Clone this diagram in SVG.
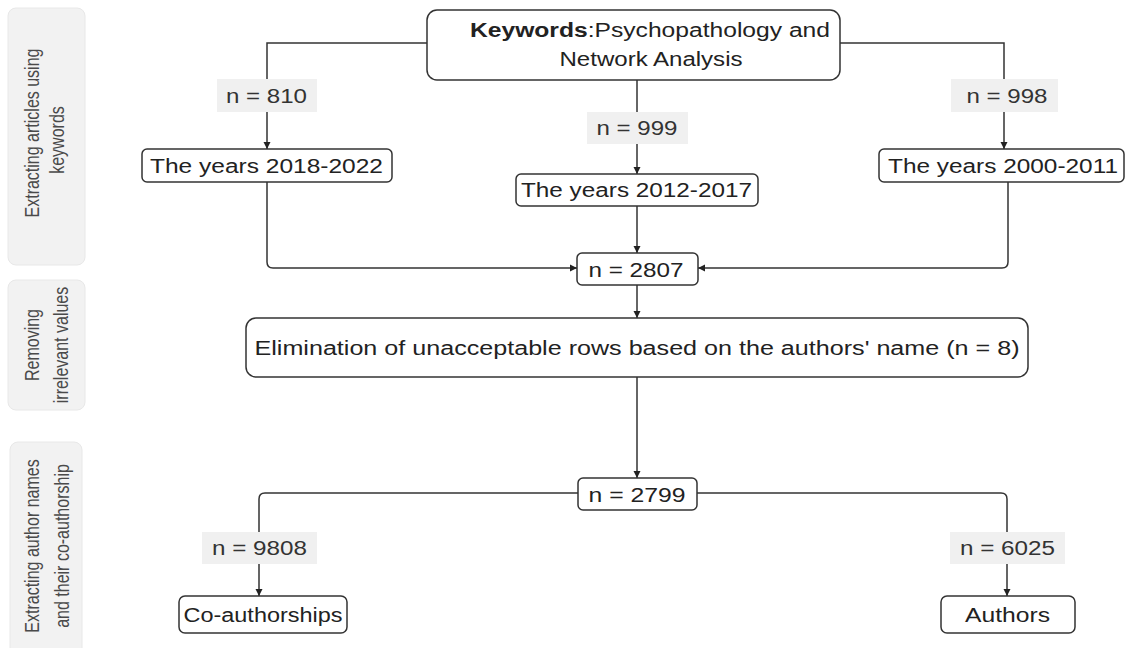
<svg xmlns="http://www.w3.org/2000/svg" width="1126" height="648" viewBox="0 0 1126 648">
<style>
.panel{fill:#f2f2f2;stroke:#e8e8e8;stroke-width:1}
.ptxt{font-family:"Liberation Sans",Arial,sans-serif;font-size:16px;fill:#4a4a4a;text-anchor:middle}
.box{fill:#ffffff;stroke:#333333;stroke-width:1.5}
.lab{fill:#f0f0f0;stroke:none}
.t{font-family:"Liberation Sans",Arial,sans-serif;font-size:20px;fill:#222222;text-anchor:middle}
.lt{font-family:"Liberation Sans",Arial,sans-serif;font-size:20px;fill:#333333;text-anchor:middle}
.c{fill:none;stroke:#333333;stroke-width:1.5}
</style>
<defs>
<marker id="ah" markerWidth="8" markerHeight="8" refX="7" refY="4" orient="auto" markerUnits="userSpaceOnUse">
<path d="M0,0.5 L7,4 L0,7.5 z" fill="#222222"/>
</marker>
</defs>
<rect width="1126" height="648" fill="#ffffff"/>
<g id="stages">
<g id="stage1">
<rect class="panel" x="8" y="8" width="77" height="257" rx="8"/>
<text class="ptxt" transform="translate(39,133) rotate(-90) scale(1,1.25)">Extracting articles using</text>
<text class="ptxt" transform="translate(64,140) rotate(-90) scale(1,1.25)">keywords</text>
</g>
<g id="stage2">
<rect class="panel" x="8" y="280" width="77" height="130" rx="8"/>
<text class="ptxt" transform="translate(39,345) rotate(-90) scale(1,1.25)">Removing</text>
<text class="ptxt" transform="translate(68,345) rotate(-90) scale(1,1.25)">irrelevant values</text>
</g>
<g id="stage3">
<rect class="panel" x="10" y="442" width="72" height="214" rx="8"/>
<text class="ptxt" transform="translate(39,546) rotate(-90) scale(1,1.25)">Extracting author names</text>
<text class="ptxt" transform="translate(69,546) rotate(-90) scale(1,1.25)">and their co-authorship</text>
</g>
</g>
<g id="connectors">
<path class="c" d="M427,43 H267 V149" marker-end="url(#ah)"/>
<path class="c" d="M637,80 V174" marker-end="url(#ah)"/>
<path class="c" d="M840,43 H1004 V149" marker-end="url(#ah)"/>
<path class="c" d="M267,182 V262 Q267,268 273,268 H577" marker-end="url(#ah)"/>
<path class="c" d="M637,206 V253" marker-end="url(#ah)"/>
<path class="c" d="M1008,182 V262 Q1008,268 1002,268 H698" marker-end="url(#ah)"/>
<path class="c" d="M637,285 V318" marker-end="url(#ah)"/>
<path class="c" d="M637,377 V478" marker-end="url(#ah)"/>
<path class="c" d="M578,493 H265 Q259,493 259,499 V596" marker-end="url(#ah)"/>
<path class="c" d="M697,493 H1001 Q1007,493 1007,499 V596" marker-end="url(#ah)"/>
</g>
<g id="labels">
<g id="lab810"><rect class="lab" x="217" y="79" width="100" height="33"/><text class="lt" x="266.5" y="103" textLength="81" lengthAdjust="spacingAndGlyphs">n = 810</text></g>
<g id="lab999"><rect class="lab" x="587" y="112" width="101" height="32"/><text class="lt" x="637" y="135" textLength="81" lengthAdjust="spacingAndGlyphs">n = 999</text></g>
<g id="lab998"><rect class="lab" x="951" y="79" width="107" height="33"/><text class="lt" x="1007" y="103" textLength="81" lengthAdjust="spacingAndGlyphs">n = 998</text></g>
<g id="lab9808"><rect class="lab" x="202" y="532" width="115" height="32"/><text class="lt" x="259.5" y="555" textLength="95" lengthAdjust="spacingAndGlyphs">n = 9808</text></g>
<g id="lab6025"><rect class="lab" x="950" y="532" width="115" height="32"/><text class="lt" x="1007.5" y="555" textLength="95" lengthAdjust="spacingAndGlyphs">n = 6025</text></g>
</g>
<g id="keywords">
<rect class="box" x="427" y="10" width="413" height="70" rx="10"/>
<text class="t" x="650" y="37" textLength="360" lengthAdjust="spacingAndGlyphs"><tspan font-weight="bold">Keywords</tspan>:Psychopathology and</text>
<text class="t" x="651" y="66" textLength="183" lengthAdjust="spacingAndGlyphs">Network Analysis</text>
</g>
<g id="y2018">
<rect class="box" x="142" y="149" width="250" height="33" rx="5"/>
<text class="t" x="266.5" y="173" textLength="233" lengthAdjust="spacingAndGlyphs">The years 2018-2022</text>
</g>
<g id="y2012">
<rect class="box" x="516" y="174" width="242" height="32" rx="5"/>
<text class="t" x="636.5" y="197" textLength="231" lengthAdjust="spacingAndGlyphs">The years 2012-2017</text>
</g>
<g id="y2000">
<rect class="box" x="879" y="149" width="245" height="33" rx="5"/>
<text class="t" x="1003" y="173" textLength="230" lengthAdjust="spacingAndGlyphs">The years 2000-2011</text>
</g>
<g id="n2807">
<rect class="box" x="577" y="253" width="121" height="32" rx="5"/>
<text class="t" x="636" y="277" textLength="95" lengthAdjust="spacingAndGlyphs">n = 2807</text>
</g>
<g id="elimination">
<rect class="box" x="246" y="318" width="782" height="59" rx="10"/>
<text class="t" x="637" y="355" textLength="765" lengthAdjust="spacingAndGlyphs">Elimination of unacceptable rows based on the authors' name (n = 8)</text>
</g>
<g id="n2799">
<rect class="box" x="578" y="478" width="119" height="32" rx="5"/>
<text class="t" x="637" y="502" textLength="97" lengthAdjust="spacingAndGlyphs">n = 2799</text>
</g>
<g id="coauth">
<rect class="box" x="179" y="596" width="168" height="37" rx="6"/>
<text class="t" x="263" y="622" textLength="159" lengthAdjust="spacingAndGlyphs">Co-authorships</text>
</g>
<g id="authors">
<rect class="box" x="941" y="596" width="134" height="37" rx="6"/>
<text class="t" x="1007.5" y="622" textLength="85" lengthAdjust="spacingAndGlyphs">Authors</text>
</g>
</svg>
